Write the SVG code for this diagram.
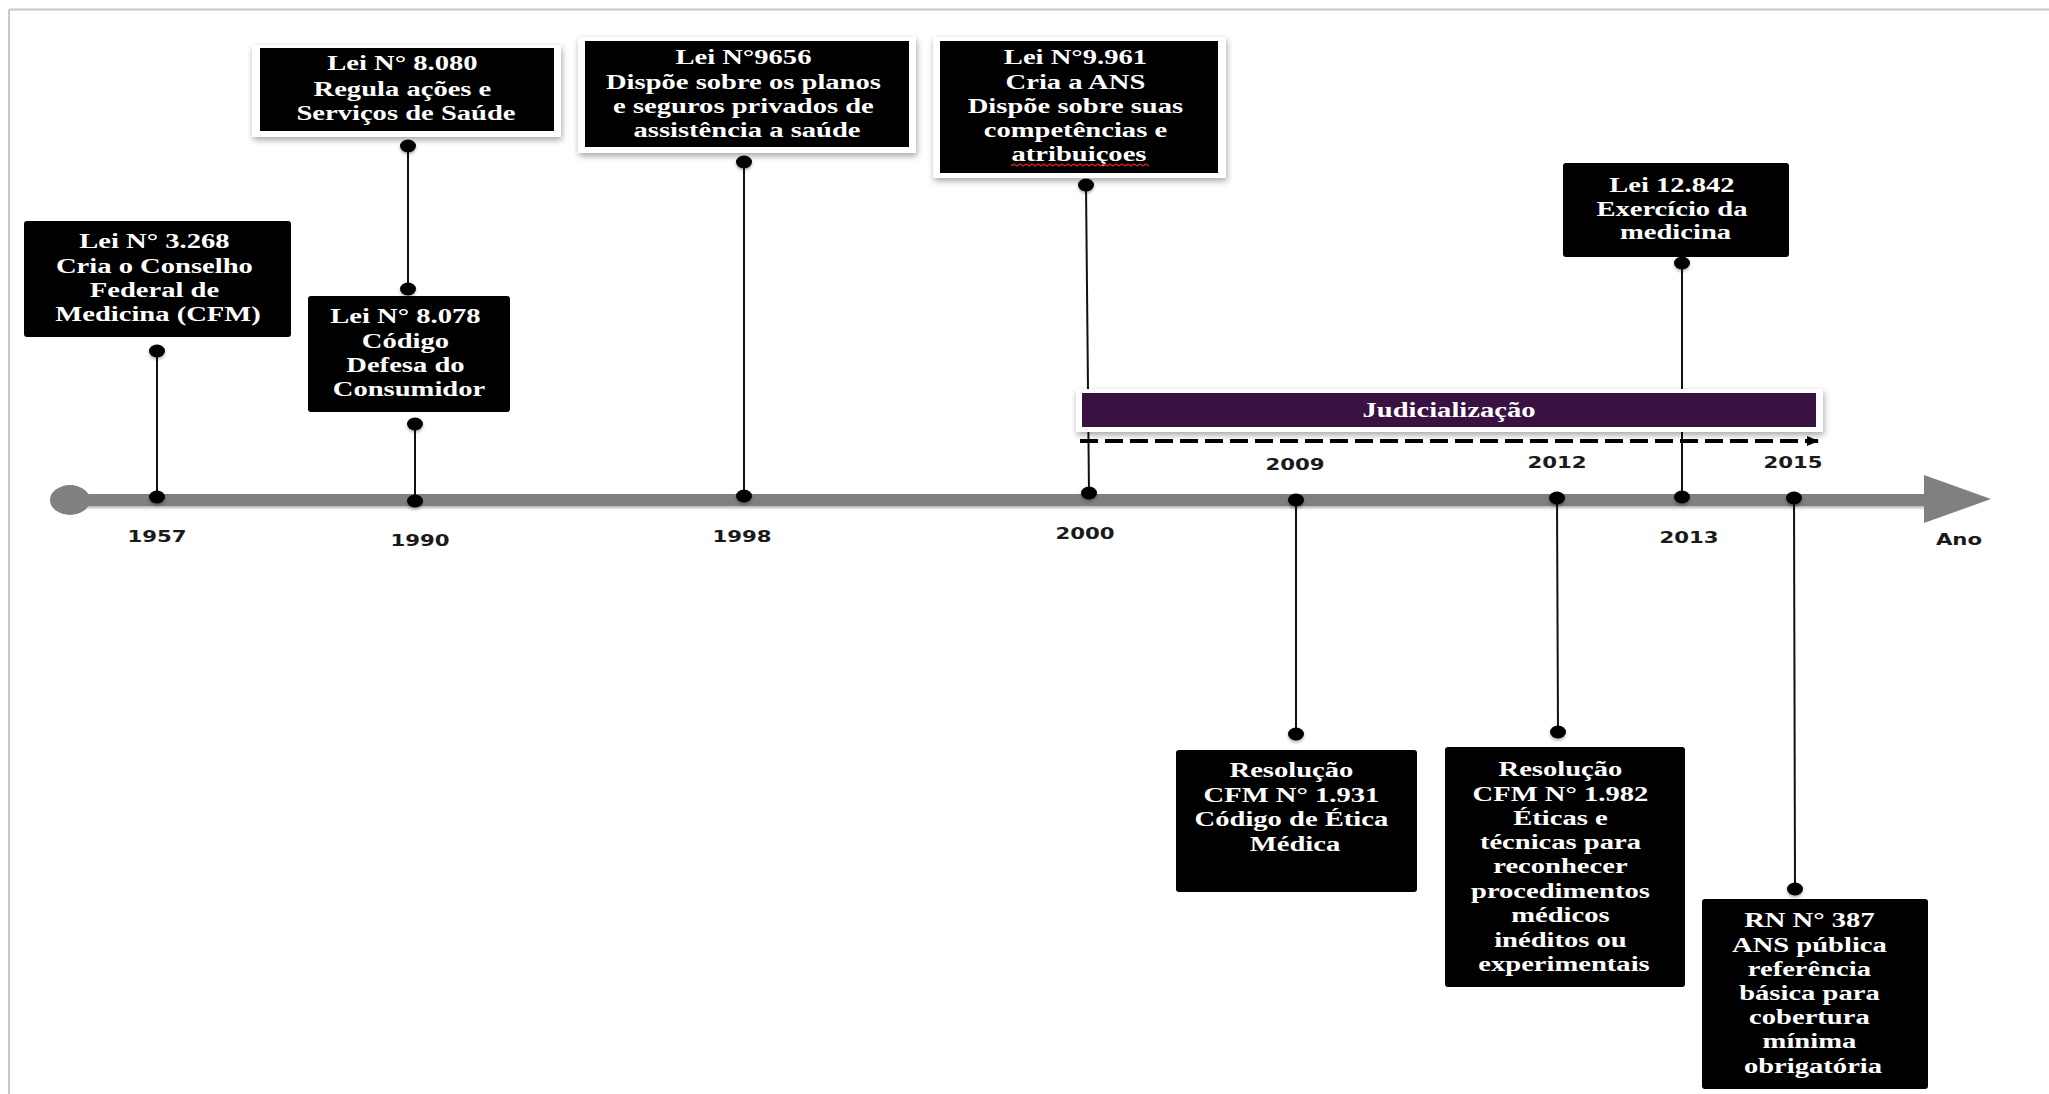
<svg xmlns="http://www.w3.org/2000/svg" width="2049" height="1094" viewBox="0 0 2049 1094">
<defs>
  <filter id="sh" x="-10%" y="-20%" width="120%" height="150%">
    <feDropShadow dx="1" dy="3" stdDeviation="3" flood-color="#000" flood-opacity="0.35"/>
  </filter>
  <filter id="sh2" x="-20%" y="-50%" width="140%" height="200%">
    <feDropShadow dx="0" dy="2" stdDeviation="1.5" flood-color="#000" flood-opacity="0.3"/>
  </filter>
  <marker id="ah" viewBox="0 0 12 10" refX="11" refY="5" markerWidth="12" markerHeight="10" markerUnits="userSpaceOnUse" orient="auto">
    <path d="M0,0 L12,5 L0,10 Z" fill="#000"/>
  </marker>
</defs>
<style>
  .frame { fill: #fff; filter: url(#sh); }
  .box { fill: #000; }
  .t { font-family: "Liberation Serif", "Times New Roman", serif; font-weight: bold; font-size: 21.5px; fill: #fff; text-anchor: middle; }
  .yr { font-family: "DejaVu Sans", "Liberation Sans", sans-serif; font-weight: bold; font-size: 16px; fill: #1a1a1a; text-anchor: middle; }
  .ln { stroke: #111; stroke-width: 2; fill: none; }
  .dot { fill: #000; filter: url(#sh2); }
</style>
<rect x="0" y="0" width="2049" height="1094" fill="#fff"/>
<path d="M9,9.5 H2049 M9,9.5 V1094" stroke="#c8c8c8" stroke-width="2" fill="none"/>

<g id="axis">
  <rect x="70" y="494" width="1856" height="12" fill="#808080" filter="url(#sh2)"/>
  <polygon points="1924,475 1991,499 1924,523" fill="#808080"/>
  <ellipse cx="70" cy="500" rx="20" ry="15" fill="#808080"/>
</g>

<g id="connectors">
  <line class="ln" x1="157" y1="351" x2="157" y2="497"/>
  <line class="ln" x1="408" y1="146" x2="408" y2="289"/>
  <line class="ln" x1="415" y1="424" x2="415" y2="501"/>
  <line class="ln" x1="744" y1="162" x2="744" y2="496"/>
  <line class="ln" x1="1086" y1="185" x2="1089" y2="493"/>
  <line class="ln" x1="1682" y1="263" x2="1682" y2="497"/>
  <line class="ln" x1="1296" y1="500" x2="1296" y2="734"/>
  <line class="ln" x1="1557" y1="498" x2="1558" y2="732"/>
  <line class="ln" x1="1794" y1="498" x2="1795" y2="889"/>
  <ellipse class="dot" cx="157" cy="351" rx="8" ry="6.5"/>
  <ellipse class="dot" cx="157" cy="497" rx="8" ry="6.5"/>
  <ellipse class="dot" cx="408" cy="146" rx="8" ry="6.5"/>
  <ellipse class="dot" cx="408" cy="289" rx="8" ry="6.5"/>
  <ellipse class="dot" cx="415" cy="424" rx="8" ry="6.5"/>
  <ellipse class="dot" cx="415" cy="501" rx="8" ry="6.5"/>
  <ellipse class="dot" cx="744" cy="162" rx="8" ry="6.5"/>
  <ellipse class="dot" cx="744" cy="496" rx="8" ry="6.5"/>
  <ellipse class="dot" cx="1086" cy="185" rx="8" ry="6.5"/>
  <ellipse class="dot" cx="1089" cy="493" rx="8" ry="6.5"/>
  <ellipse class="dot" cx="1682" cy="263" rx="8" ry="6.5"/>
  <ellipse class="dot" cx="1682" cy="497" rx="8" ry="6.5"/>
  <ellipse class="dot" cx="1296" cy="500" rx="8" ry="6.5"/>
  <ellipse class="dot" cx="1296" cy="734" rx="8" ry="6.5"/>
  <ellipse class="dot" cx="1557" cy="498" rx="8" ry="6.5"/>
  <ellipse class="dot" cx="1558" cy="732" rx="8" ry="6.5"/>
  <ellipse class="dot" cx="1794" cy="498" rx="8" ry="6.5"/>
  <ellipse class="dot" cx="1795" cy="889" rx="8" ry="6.5"/>
</g>

<g id="judicializacao">
  <rect class="frame" x="1076" y="389" width="747" height="43"/>
  <rect x="1082" y="393" width="734" height="34" fill="#391242"/>
  <text class="t" transform="matrix(1.33 0 0 1 1449 0)" x="0" y="417">Judicialização</text>
  <line x1="1080" y1="441" x2="1818" y2="441" stroke="#000" stroke-width="4" stroke-dasharray="18 7" marker-end="url(#ah)"/>
</g>

<g id="lei3268">
  <rect class="box" x="24" y="221" width="267" height="116" rx="3"/>
  <text class="t" transform="matrix(1.33 0 0 1 158 0)">
    <tspan x="0" y="248">Lei N° 3.268</tspan>
    <tspan x="0" y="273">Cria o Conselho</tspan>
    <tspan x="0" y="297">Federal de</tspan>
    <tspan x="0" y="321">Medicina (CFM)</tspan>
  </text>
</g>

<g id="lei8080">
  <rect class="frame" x="252" y="45" width="309" height="92"/>
  <rect class="box" x="260" y="48" width="294" height="83"/>
  <text class="t" transform="matrix(1.33 0 0 1 406 0)">
    <tspan x="0" y="70">Lei N° 8.080</tspan>
    <tspan x="0" y="96">Regula ações e</tspan>
    <tspan x="0" y="120">Serviços de Saúde</tspan>
  </text>
</g>

<g id="lei8078">
  <rect class="box" x="308" y="296" width="202" height="116" rx="3"/>
  <text class="t" transform="matrix(1.33 0 0 1 409 0)">
    <tspan x="0" y="323">Lei N° 8.078</tspan>
    <tspan x="0" y="348">Código</tspan>
    <tspan x="0" y="372">Defesa do</tspan>
    <tspan x="0" y="396">Consumidor</tspan>
  </text>
</g>

<g id="lei9656">
  <rect class="frame" x="578" y="37" width="338" height="116"/>
  <rect class="box" x="585" y="41" width="324" height="106"/>
  <text class="t" transform="matrix(1.33 0 0 1 747 0)">
    <tspan x="0" y="64">Lei N°9656</tspan>
    <tspan x="0" y="89">Dispõe sobre os planos</tspan>
    <tspan x="0" y="113">e seguros privados de</tspan>
    <tspan x="0" y="137">assistência a saúde</tspan>
  </text>
</g>

<g id="lei9961">
  <rect class="frame" x="933" y="37" width="293" height="141"/>
  <rect class="box" x="940" y="41" width="278" height="132"/>
  <text class="t" transform="matrix(1.33 0 0 1 1079 0)">
    <tspan x="0" y="64">Lei N°9.961</tspan>
    <tspan x="0" y="89">Cria a ANS</tspan>
    <tspan x="0" y="113">Dispõe sobre suas</tspan>
    <tspan x="0" y="137">competências e</tspan>
    <tspan x="0" y="161">atribuiçoes</tspan>
  </text>
  <path d="M1011,166 l3,-2 l3,2 l3,-2 l3,2 l3,-2 l3,2 l3,-2 l3,2 l3,-2 l3,2 l3,-2 l3,2 l3,-2 l3,2 l3,-2 l3,2 l3,-2 l3,2 l3,-2 l3,2 l3,-2 l3,2 l3,-2 l3,2 l3,-2 l3,2 l3,-2 l3,2 l3,-2 l3,2 l3,-2 l3,2 l3,-2 l3,2 l3,-2 l3,2 l3,-2 l3,2 l3,-2 l3,2 l3,-2 l3,2 l3,-2 l3,2 l3,-2 l3,2" stroke="#e02020" stroke-width="1.2" fill="none"/>
</g>

<g id="lei12842">
  <rect class="box" x="1563" y="163" width="226" height="94" rx="3"/>
  <text class="t" transform="matrix(1.33 0 0 1 1675.5 0)">
    <tspan x="0" y="192">Lei 12.842</tspan>
    <tspan x="0" y="216">Exercício da</tspan>
    <tspan x="0" y="239">medicina</tspan>
  </text>
</g>

<g id="res1931">
  <rect class="box" x="1176" y="750" width="241" height="142" rx="3"/>
  <text class="t" transform="matrix(1.33 0 0 1 1295 0)">
    <tspan x="0" y="777">Resolução</tspan>
    <tspan x="0" y="802">CFM N° 1.931</tspan>
    <tspan x="0" y="826">Código de Ética</tspan>
    <tspan x="0" y="851">Médica</tspan>
  </text>
</g>

<g id="res1982">
  <rect class="box" x="1445" y="747" width="240" height="240" rx="3"/>
  <text class="t" transform="matrix(1.33 0 0 1 1564 0)">
    <tspan x="0" y="776">Resolução</tspan>
    <tspan x="0" y="801">CFM N° 1.982</tspan>
    <tspan x="0" y="825">Éticas e</tspan>
    <tspan x="0" y="849">técnicas para</tspan>
    <tspan x="0" y="873">reconhecer</tspan>
    <tspan x="0" y="898">procedimentos</tspan>
    <tspan x="0" y="922">médicos</tspan>
    <tspan x="0" y="947">inéditos ou</tspan>
    <tspan x="0" y="971">experimentais</tspan>
  </text>
</g>

<g id="rn387">
  <rect class="box" x="1702" y="899" width="226" height="190" rx="3"/>
  <text class="t" transform="matrix(1.33 0 0 1 1813 0)">
    <tspan x="0" y="927">RN N° 387</tspan>
    <tspan x="0" y="952">ANS pública</tspan>
    <tspan x="0" y="976">referência</tspan>
    <tspan x="0" y="1000">básica para</tspan>
    <tspan x="0" y="1024">cobertura</tspan>
    <tspan x="0" y="1048">mínima</tspan>
    <tspan x="0" y="1073">obrigatória</tspan>
  </text>
</g>

<g id="years">
  <text class="yr" transform="matrix(1.33 0 0 1 157 0)" x="0" y="542">1957</text>
  <text class="yr" transform="matrix(1.33 0 0 1 420 0)" x="0" y="546">1990</text>
  <text class="yr" transform="matrix(1.33 0 0 1 742 0)" x="0" y="542">1998</text>
  <text class="yr" transform="matrix(1.33 0 0 1 1085 0)" x="0" y="539">2000</text>
  <text class="yr" transform="matrix(1.33 0 0 1 1295 0)" x="0" y="470">2009</text>
  <text class="yr" transform="matrix(1.33 0 0 1 1557 0)" x="0" y="468">2012</text>
  <text class="yr" transform="matrix(1.33 0 0 1 1793 0)" x="0" y="468">2015</text>
  <text class="yr" transform="matrix(1.33 0 0 1 1689 0)" x="0" y="543">2013</text>
  <text class="yr" transform="matrix(1.33 0 0 1 1959 0)" x="0" y="545">Ano</text>
</g>
</svg>
